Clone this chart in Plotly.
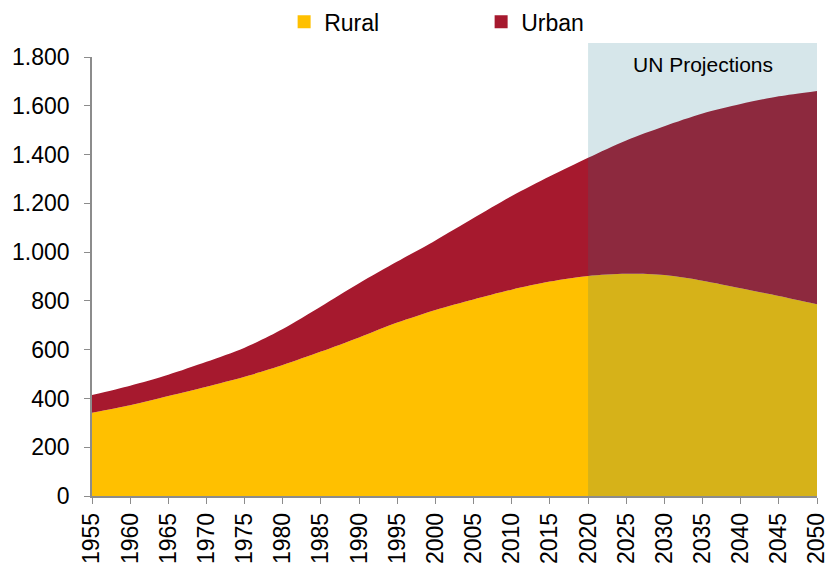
import plotly.graph_objects as go

years = [1955, 1960, 1965, 1970, 1975, 1980, 1985, 1990, 1995, 2000,
         2005, 2010, 2015, 2020, 2025, 2030, 2035, 2040, 2045, 2050]
rural = [341, 372, 410, 448, 489, 537, 592, 650, 711, 763,
         806, 846, 879, 902, 911, 906, 883, 852, 820, 786]
urban = [73, 80, 87, 102, 119, 148, 185, 222, 250, 285,
         334, 384, 432, 485, 547, 610, 685, 755, 819, 875]

y_tickvals = [0, 200, 400, 600, 800, 1000, 1200, 1400, 1600, 1800]
y_ticktext = ["0", "200", "400", "600", "800", "1.000", "1.200", "1.400", "1.600", "1.800"]
x_tickvals = years
x_ticktext = [str(y) for y in years]

proj_start = 2020
proj_end = 2050
proj_top = 1857
proj_label = "UN Projections"

RURAL_C = "#FFC000"
URBAN_C = "#A6192E"
FONT = "Liberation Sans, Arial, Helvetica, sans-serif"

fig = go.Figure()
fig.add_trace(go.Scatter(x=years, y=rural, name="Rural", stackgroup="one",
                         mode="none", line=dict(shape="spline", smoothing=0.8),
                         fillcolor=RURAL_C, showlegend=False))
fig.add_trace(go.Scatter(x=years, y=urban, name="Urban", stackgroup="one",
                         mode="none", line=dict(shape="spline", smoothing=0.8),
                         fillcolor=URBAN_C, showlegend=False))
# legend proxies
fig.add_trace(go.Scatter(x=[None], y=[None], name="Rural", mode="markers",
                         marker=dict(symbol="square", size=13, color=RURAL_C)))
fig.add_trace(go.Scatter(x=[None], y=[None], name="Urban", mode="markers",
                         marker=dict(symbol="square", size=13, color=URBAN_C)))

fig.add_shape(type="rect", xref="x", yref="paper",
              x0=proj_start, x1=proj_end, y0=0, y1=proj_top / 1800,
              fillcolor="rgba(27,116,138,0.18)", line=dict(width=0), layer="above")
fig.add_annotation(x=(proj_start + proj_end) / 2, y=0.982,
                   xref="x", yref="paper", text=proj_label, showarrow=False,
                   font=dict(size=21, color="#000000", family=FONT), yanchor="middle")

fig.update_layout(
    width=828, height=565,
    margin=dict(l=92, r=11, t=57, b=69, autoexpand=False),
    paper_bgcolor="white", plot_bgcolor="white",
    font=dict(family=FONT, size=23, color="#000000"),
    showlegend=True,
    legend=dict(orientation="h", x=0.265, xanchor="left", y=1.08, yanchor="middle",
                font=dict(size=23, family=FONT), entrywidth=152, entrywidthmode="pixels",
                traceorder="normal", itemwidth=30, bgcolor="rgba(0,0,0,0)"),
    xaxis=dict(range=[1955, 2050], tickvals=x_tickvals, ticktext=x_ticktext,
               tickangle=-90, ticks="outside", ticklen=6, tickcolor="#8c8c8c",
               showline=True, linecolor="#8c8c8c", linewidth=1.5, showgrid=False,
               zeroline=False, tickfont=dict(size=23), automargin=False,
               ticklabeloverflow="allow"),
    yaxis=dict(range=[0, 1800], tickvals=y_tickvals, ticktext=y_ticktext,
               ticks="outside", ticklen=6, tickcolor="#8c8c8c",
               showline=True, linecolor="#8c8c8c", linewidth=1.5, showgrid=False,
               zeroline=False, tickfont=dict(size=23), automargin=False,
               ticklabelstandoff=10, ticklabeloverflow="allow"),
)

fig.write_html("out.html", post_script="document.body.style.margin='0px';",
               config={"displayModeBar": False})
